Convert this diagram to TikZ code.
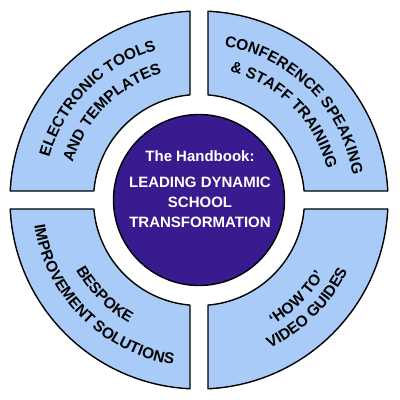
\documentclass[tikz,border=0pt]{standalone}
\usepackage{fontspec}
\setmainfont{Liberation Sans}
\usetikzlibrary{decorations.text}
\definecolor{segblue}{RGB}{168,203,247}
\definecolor{hubviolet}{RGB}{58,26,143}
\newcommand\segfont{\fontsize{15.5}{18}\selectfont\bfseries}
\tikzset{
  seg/.style={draw=black, fill=segblue, line width=1.4pt, line join=round},
  hub/.style={circle, minimum size=171pt, inner sep=0pt, fill=hubviolet, draw=black, line width=1.4pt},
  hubtext/.style={align=center, text=white, font=\fontsize{15}{20}\selectfont\bfseries, inner sep=0pt},
  arctext/.style={decorate, decoration={text along path, text align=center, text={|\segfont|#1}}}
}
\begin{document}
\begin{tikzpicture}
\useasboundingbox (0,0) rectangle (400pt,400pt);
\fill[white] (0,0) rectangle (400pt,400pt);
\begin{scope}[shift={(199pt,200pt)}]
  \pgfmathsetmacro\Ro{189}
  \pgfmathsetmacro\Ri{105.5}
  \pgfmathsetmacro\ao{asin(9/\Ro)}
  \pgfmathsetmacro\ai{asin(9/\Ri)}
  \foreach \r in {0,90,180,270}{
    \draw[seg] (\r+\ao:\Ro pt) arc[start angle=\r+\ao, end angle=\r+90-\ao, radius=\Ro pt]
      -- (\r+90-\ai:\Ri pt) arc[start angle=\r+90-\ai, end angle=\r+\ai, radius=\Ri pt] -- cycle;
  }
  % top-left
  \path[arctext={ELECTRONIC TOOLS}] (180:155.6pt) arc[start angle=180, end angle=90, radius=155.6pt];
  \path[arctext={AND TEMPLATES}] (180:131.6pt) arc[start angle=180, end angle=90, radius=131.6pt];
  % top-right
  \path[arctext={CONFERENCE SPEAKING}] (90:155.6pt) arc[start angle=90, end angle=0, radius=155.6pt];
  \path[arctext={{\&} STAFF TRAINING}] (90:131.6pt) arc[start angle=90, end angle=0, radius=131.6pt];
  % bottom-left
  \path[arctext={IMPROVEMENT SOLUTIONS}] (180:166.6pt) arc[start angle=180, end angle=270, radius=166.6pt];
  \path[arctext={BESPOKE}] (180:141.5pt) arc[start angle=180, end angle=270, radius=141.5pt];
  % bottom-right
  \path[arctext={VIDEO GUIDES}] (270:164.5pt) arc[start angle=270, end angle=360, radius=164.5pt];
  \path[arctext={‘HOW TO’}] (270:145.5pt) arc[start angle=270, end angle=360, radius=145.5pt];
  % hub
  \node[hub] (hub) at (0,0) {};
  \node[hubtext] (title) at (1pt,10.5pt) {The Handbook:\\[6pt]LEADING DYNAMIC\\SCHOOL\\TRANSFORMATION};
\end{scope}
\end{tikzpicture}
\end{document}
